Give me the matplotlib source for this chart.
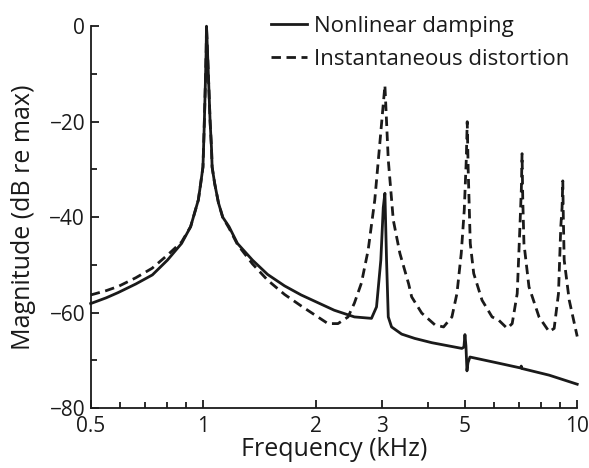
import matplotlib
matplotlib.use("Agg")

import matplotlib.pyplot as plt
from matplotlib.ticker import FixedLocator, NullFormatter

plt.rcParams['font.family'] = ['Open Sans', 'DejaVu Sans']

# Nonlinear damping (solid), freq in kHz, magnitude in dB re max
damp_freq = [0.500, 0.550, 0.592, 0.660, 0.731, 0.802, 0.875, 0.925, 0.970, 0.984,
             0.998, 1.005, 1.013, 1.018, 1.020, 1.026, 1.034, 1.043, 1.052, 1.056,
             1.073, 1.098, 1.127, 1.172, 1.234, 1.354, 1.486, 1.650, 1.827, 2.240,
             2.536, 2.817, 2.906, 2.984, 3.029, 3.060, 3.091, 3.124, 3.188, 3.392,
             3.676, 4.084, 4.917, 4.978, 5.009, 5.040, 5.072, 5.103, 5.166, 6.171,
             7.060, 7.084, 7.110, 8.412, 10.00]
damp_db = [-58.1, -56.9, -55.8, -54.0, -52.1, -49.0, -45.5, -42.0, -36.4, -33.0,
           -29.5, -22.0, -12.0, -5.0, 0.0, -5.0, -12.0, -20.0, -25.6, -29.5,
           -33.0, -37.0, -40.0, -42.0, -45.5, -49.0, -52.0, -54.4, -56.3, -59.5,
           -60.9, -61.2, -58.8, -49.0, -38.0, -35.0, -49.0, -60.9, -63.0, -64.5,
           -65.4, -66.3, -67.5, -67.2, -64.6, -67.0, -72.2, -70.5, -69.3, -70.6,
           -71.6, -71.2, -71.7, -73.1, -75.0]

# Instantaneous distortion (dashed)
dist_freq = [0.500, 0.550, 0.593, 0.660, 0.730, 0.806, 0.875, 0.925, 0.970, 0.984,
             0.998, 1.005, 1.013, 1.018, 1.020, 1.026, 1.034, 1.043, 1.052, 1.056,
             1.073, 1.098, 1.127, 1.172, 1.234, 1.354, 1.486, 1.650, 1.827, 2.155,
             2.292, 2.439, 2.536, 2.648, 2.760, 2.875, 2.966, 3.060, 3.124, 3.222,
             3.356, 3.542, 3.608, 3.839, 4.169, 4.391, 4.623, 4.768, 4.896, 4.988,
             5.050, 5.080, 5.110, 5.176, 5.287, 5.565, 5.920, 6.171, 6.497, 6.700,
             6.911, 7.027, 7.090, 7.120, 7.150, 7.203, 7.430, 7.904, 8.412, 8.676,
             8.910, 9.038, 9.110, 9.150, 9.180, 9.229, 9.520, 10.00]
dist_db = [-56.3, -55.4, -54.5, -52.7, -50.7, -47.8, -45.2, -42.0, -36.4, -33.0,
           -29.5, -22.0, -12.0, -5.0, 0.0, -5.0, -12.0, -20.0, -25.6, -29.5,
           -33.0, -37.0, -40.0, -42.3, -45.7, -49.8, -53.2, -56.2, -58.6, -62.3,
           -62.3, -60.9, -58.0, -53.8, -46.9, -36.4, -24.5, -12.4, -28.0, -40.6,
           -47.6, -54.0, -56.7, -60.1, -62.6, -63.0, -60.9, -56.0, -47.6, -38.5,
           -28.0, -20.0, -30.0, -45.5, -51.8, -57.4, -60.9, -61.6, -63.3, -62.3,
           -56.0, -42.0, -34.0, -26.7, -36.0, -45.5, -54.6, -60.9, -64.0, -63.3,
           -56.0, -42.0, -38.0, -32.4, -40.0, -49.0, -57.4, -65.0]

x_major = [0.5, 1, 2, 3, 5, 10]
x_major_labels = ['0.5', '1', '2', '3', '5', '10']
x_minor = [0.6, 0.7, 0.8, 0.9, 4, 6, 7, 8, 9]
y_major = [-80, -60, -40, -20, 0]
y_major_labels = ['\u221280', '\u221260', '\u221240', '\u221220', '0']
y_minor = [-70, -50, -30, -10]

fig = plt.figure(figsize=(5.89, 4.68), dpi=100)
ax = fig.add_axes([0.154, 0.128, 0.826, 0.816])

ax.plot(damp_freq, damp_db, color='#1a1a1a', lw=2.0, clip_on=False,
        label='Nonlinear damping')
ax.plot(dist_freq, dist_db, color='#1a1a1a', lw=2.0, clip_on=False,
        dashes=(3.4, 2.0), label='Instantaneous distortion')

ax.set_xscale('log')
ax.set_xlim(0.5, 10)
ax.set_ylim(-80, 0)

ax.xaxis.set_major_locator(FixedLocator(x_major))
ax.xaxis.set_minor_locator(FixedLocator(x_minor))
ax.set_xticklabels(x_major_labels)
ax.xaxis.set_minor_formatter(NullFormatter())
ax.yaxis.set_major_locator(FixedLocator(y_major))
ax.yaxis.set_minor_locator(FixedLocator(y_minor))
ax.set_yticklabels(y_major_labels)

ax.tick_params(which='both', direction='in', width=1.3, labelsize=15,
               color='#1a1a1a', labelcolor='#1a1a1a')
ax.tick_params(axis='x', pad=6)
ax.tick_params(axis='y', pad=4)
ax.tick_params(which='major', length=6)
ax.tick_params(which='minor', length=4)

for side in ['top', 'right']:
    ax.spines[side].set_visible(False)
for side in ['left', 'bottom']:
    ax.spines[side].set_linewidth(1.3)
    ax.spines[side].set_color('#1a1a1a')

ax.set_xlabel('Frequency (kHz)', fontsize=18, color='#1a1a1a', labelpad=0)
ax.set_ylabel('Magnitude (dB re max)', fontsize=18, color='#1a1a1a', labelpad=10)

leg = fig.legend(loc='upper right', bbox_to_anchor=(0.99, 0.995), frameon=False,
                 fontsize=16, handlelength=1.6, handletextpad=0.35,
                 labelspacing=0.55, borderaxespad=0.2)
for t in leg.get_texts():
    t.set_color('#1a1a1a')

fig.savefig('out.png', dpi=100)
